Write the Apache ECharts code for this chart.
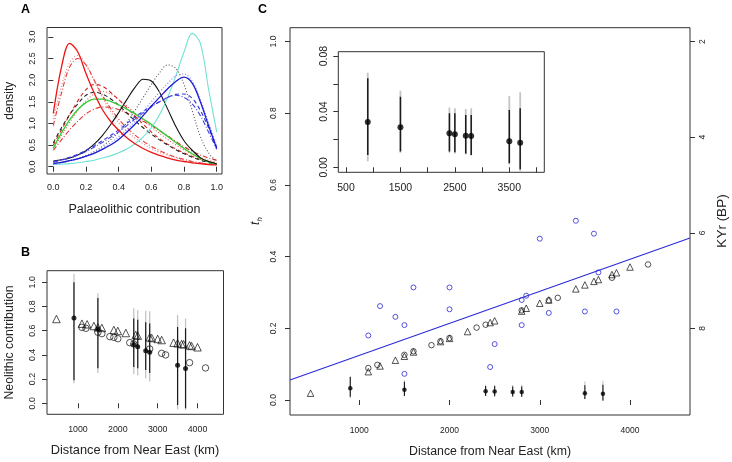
<!DOCTYPE html>
<html>
<head>
<meta charset="utf-8">
<script src="https://cdn.jsdelivr.net/npm/echarts@6/dist/echarts.min.js"></script>
<style>html,body{margin:0;padding:0;background:#fff}#c{width:732px;height:462px}</style>
</head>
<body>
<div id="c"></div>
<script>
// ---------- Panel A: density curves ----------
const aX = [0,0.05,0.1,0.15,0.2,0.25,0.3,0.35,0.4,0.45,0.5,0.55,0.6,0.65,0.7,0.75,0.8,0.85,0.9,0.95,1.0];
const redSolid     = [1.23,2.3,2.85,2.65,2.15,1.7,1.32,1.05,0.84,0.67,0.53,0.42,0.33,0.26,0.2,0.15,0.12,0.09,0.07,0.05,0.04];
const redDotHi     = [1.1,1.85,2.4,2.57,2.35,1.98,1.6,1.28,1.02,0.82,0.66,0.53,0.42,0.33,0.26,0.2,0.15,0.11,0.08,0.06,0.04];
const redDashDotHi = [0.95,1.7,2.3,2.5,2.35,2.0,1.65,1.35,1.1,0.9,0.73,0.59,0.47,0.37,0.29,0.22,0.17,0.12,0.09,0.06,0.05];
const redDash      = [0.5,0.85,1.2,1.52,1.78,1.9,1.86,1.72,1.55,1.36,1.17,0.98,0.8,0.65,0.52,0.41,0.32,0.24,0.17,0.12,0.08];
const redDotMid    = [0.42,0.72,1.02,1.3,1.52,1.68,1.74,1.68,1.55,1.4,1.24,1.08,0.92,0.77,0.63,0.5,0.39,0.29,0.21,0.15,0.1];
const redDashDotLo = [0.38,0.62,0.85,1.05,1.22,1.33,1.38,1.37,1.32,1.24,1.15,1.05,0.95,0.83,0.71,0.58,0.46,0.36,0.27,0.2,0.15];
const blackDash    = [0.55,0.9,1.2,1.45,1.65,1.72,1.68,1.57,1.42,1.24,1.06,0.9,0.75,0.62,0.5,0.39,0.3,0.22,0.15,0.1,0.06];
const greenSolid   = [0.43,0.78,1.08,1.32,1.48,1.56,1.56,1.51,1.43,1.33,1.22,1.1,0.98,0.84,0.7,0.56,0.42,0.3,0.19,0.11,0.06];
const blackSolid   = [0.13,0.16,0.2,0.27,0.37,0.52,0.72,0.97,1.25,1.55,1.83,2.02,1.98,1.72,1.33,0.93,0.6,0.38,0.21,0.12,0.07];
const blackDot     = [0.07,0.1,0.14,0.19,0.26,0.35,0.47,0.62,0.8,1.02,1.3,1.6,1.9,2.17,2.35,2.27,1.9,1.3,0.7,0.32,0.12];
const cyanSolid    = [0.05,0.06,0.07,0.09,0.12,0.15,0.2,0.25,0.32,0.41,0.53,0.69,0.9,1.2,1.6,2.1,2.65,3.08,2.85,1.8,0.8];
const blueSolid    = [0.07,0.1,0.14,0.18,0.24,0.31,0.4,0.5,0.63,0.8,0.98,1.18,1.4,1.6,1.8,1.97,2.07,1.93,1.5,0.95,0.42];
const blueDot      = [0.06,0.09,0.13,0.18,0.25,0.33,0.43,0.55,0.69,0.86,1.05,1.27,1.5,1.72,1.92,2.1,2.14,1.98,1.55,1.02,0.5];
const blueDash     = [0.12,0.16,0.22,0.29,0.38,0.48,0.6,0.72,0.85,1.0,1.15,1.28,1.4,1.5,1.6,1.67,1.68,1.58,1.3,0.9,0.45];
const blueDashDot  = [0.1,0.15,0.2,0.27,0.35,0.45,0.56,0.68,0.8,0.95,1.1,1.24,1.38,1.5,1.6,1.65,1.6,1.45,1.18,0.8,0.4];

// ---------- Panels B & C: sites ----------
const triX   = [460,1100,1230,1400,1500,1600,1900,2000,2200,2450,2500,2800,2850,3000,3100,3400,3500,3600,3650,3800,3850,4000];
const triNeo = [0.697,0.658,0.653,0.639,0.628,0.623,0.606,0.598,0.581,0.565,0.559,0.545,0.54,0.532,0.523,0.501,0.496,0.49,0.488,0.479,0.474,0.463];
const triTh  = [0.019,0.079,0.095,0.111,0.122,0.134,0.163,0.172,0.191,0.216,0.221,0.248,0.256,0.270,0.279,0.310,0.321,0.331,0.336,0.350,0.355,0.371];
const cirX   = [1100,1200,1500,1600,1800,1900,2000,2300,2400,2800,3100,3200,3800,4200];
const cirNeo = [0.628,0.62,0.587,0.576,0.551,0.545,0.534,0.501,0.49,0.449,0.413,0.40,0.336,0.292];
const cirTh  = [0.089,0.098,0.126,0.136,0.153,0.164,0.173,0.202,0.210,0.250,0.278,0.285,0.341,0.378];
const blueX  = [1100,1230,1400,1500,1500,1600,2000,2000,2450,2500,2800,2850,2800,3000,3100,3400,3500,3600,3650,3850];
const blueTh = [0.180,0.262,0.232,0.209,0.073,0.314,0.314,0.253,0.092,0.156,0.279,0.291,0.209,0.450,0.243,0.500,0.247,0.464,0.356,0.247];
const fitX   = [232,4665];
const fitTh  = [0.056,0.452];

// ---------- Estimated sites with intervals ----------
const ciX    = [900,1500,2400,2500,2700,2800,3500,3700];
const neoMed = [0.705,0.615,0.487,0.468,0.435,0.421,0.314,0.287];
const neoLo  = [0.19,0.29,0.30,0.29,0.275,0.25,-0.014,-0.04];
const neoHi  = [1.0,0.87,0.70,0.69,0.67,0.66,0.63,0.62];
const neoMin = [0.165,0.25,0.24,0.23,0.206,0.18,-0.05,-0.055];
const neoMax = [1.07,0.91,0.785,0.77,0.765,0.76,0.73,0.70];
const thMed  = [0.0325,0.0287,0.0244,0.0237,0.0227,0.0225,0.0187,0.0177];
const thLo   = [0.0089,0.0113,0.0113,0.0108,0.0100,0.0089,0.0029,-0.0014];
const thHi   = [0.064,0.0508,0.0388,0.0388,0.0376,0.0376,0.0412,0.0424];
const thMin  = [0.0043,0.0105,0.0105,0.0100,0.0092,0.0085,0.0020,-0.0030];
const thMax  = [0.068,0.055,0.0429,0.0424,0.0419,0.0424,0.0513,0.054];

// ---------- tick labels ----------
const aXTicks = [0,0.2,0.4,0.6,0.8,1.0];
const aYTicks = [0,0.5,1,1.5,2,2.5,3];
const distTicks = [1000,2000,3000,4000];
const bYTicks = [0,0.2,0.4,0.6,0.8,1.0];
const cYTicks = [0,0.2,0.4,0.6,0.8,1.0];
const kyrTicks = [2,4,6,8];
const insXTicks = [500,1000,1500,2000,2500,3000,3500,4000];
const insXLabels = [500,1500,2500,3500];
const insYTicks = [0,0.02,0.04,0.06,0.08];
const insYLabels = [0,0.04,0.08];

const FONT = 'Liberation Sans, Arial, Helvetica, sans-serif';
const TXT = '#222';

function zip(xs, ys){ return xs.map((x,i)=>[x, ys[i]]); }
function ciData(med, lo, hi, mn, mx){ return ciX.map((x,i)=>[x, lo[i], hi[i], mn[i], mx[i], med[i]]); }

function makeBar(outerW, innerW){
  return function(params, api){
    const x = api.value(0);
    const pLo = api.coord([x, api.value(1)]), pHi = api.coord([x, api.value(2)]);
    const pMn = api.coord([x, api.value(3)]), pMx = api.coord([x, api.value(4)]);
    return {type:'group', children:[
      {type:'line', shape:{x1:pMn[0],y1:pMn[1],x2:pMx[0],y2:pMx[1]}, style:{stroke:'#c4c4c4', lineWidth:outerW}},
      {type:'line', shape:{x1:pLo[0],y1:pLo[1],x2:pHi[0],y2:pHi[1]}, style:{stroke:'#1a1a1a', lineWidth:innerW}}
    ]};
  };
}

function mkX(grid, min, max, ticks, labels, fmt, margin, fs){
  return {type:'value', gridIndex:grid, min:min, max:max, splitLine:{show:false},
    axisLine:{show:false},
    axisTick:{show:true, customValues:ticks, length:5, lineStyle:{color:'#333', width:1}},
    axisLabel:{customValues:labels, formatter:fmt, fontSize:fs||8.5, color:TXT, fontFamily:FONT, margin:margin}};
}
function mkY(grid, min, max, ticks, labels, fmt, margin, fs, extra){
  const o = {type:'value', gridIndex:grid, min:min, max:max, splitLine:{show:false},
    axisLine:{show:false},
    axisTick:{show:true, customValues:ticks, length:5, lineStyle:{color:'#333', width:1}},
    axisLabel:{customValues:labels, formatter:fmt, fontSize:fs||8.5, color:TXT, fontFamily:FONT, margin:margin, rotate:90}};
  return Object.assign(o, extra||{});
}

function curve(data, color, type, w){
  return {type:'line', xAxisIndex:0, yAxisIndex:0, data:zip(aX, data), smooth:0.35, showSymbol:false,
    lineStyle:{color:color, width:w||1.1, type:type}, clip:true, silent:true};
}
const DASH=[4,3], DOT=[1,2], DASHDOT=[5,2,1,2];

const option = {
  animation:false,
  backgroundColor:'#fff',
  textStyle:{fontFamily:FONT},
  grid:[
    {left:47, top:27.5, width:175, height:146.5, show:true, borderColor:'#333', borderWidth:1, backgroundColor:'transparent'},
    {left:47, top:270.7, width:176.5, height:143.6, show:true, borderColor:'#333', borderWidth:1, backgroundColor:'transparent'},
    {left:290, top:27.7, width:400, height:387.3, show:true, borderColor:'#333', borderWidth:1, backgroundColor:'transparent'},
    {left:338.3, top:51.7, width:206, height:120.6, show:true, borderColor:'#333', borderWidth:1, backgroundColor:'#fff', z:5}
  ],
  xAxis:[
    mkX(0, -0.0386, 1.0325, aXTicks, aXTicks, v=>v.toFixed(1), 9, 9),
    mkX(1, 223, 4652, distTicks, distTicks, v=>String(v), 11, 8.8),
    mkX(2, 232, 4665, distTicks, distTicks, v=>String(v), 11),
    Object.assign(mkX(3, 358.5, 4143, insXTicks, insXLabels, v=>String(v), 10, 10.5), {z:6})
  ],
  yAxis:[
    mkY(0, -0.1686, 3.215, aYTicks, aYTicks, v=>v.toFixed(1), 10, 9),
    mkY(1, -0.091, 1.096, bYTicks, bYTicks, v=>v.toFixed(1), 10, 8.8),
    mkY(2, -0.0418, 1.0385, cYTicks, cYTicks, v=>v.toFixed(1), 11.5),
    mkY(2, 1.71, 9.81, kyrTicks, kyrTicks, v=>String(v), 8, 8.5, {position:'right', inverse:true}),
    Object.assign(mkY(3, -0.0036, 0.0831, insYTicks, insYLabels, v=>v.toFixed(2), 9, 10.5), {z:6})
  ],
  series:[
    // Panel A
    curve(redDashDotLo, '#de3030', DASHDOT),
    curve(redDotMid, '#e65a5a', DOT),
    curve(redDash, '#d92424', DASH),
    curve(redDashDotHi, '#e23a3a', DASHDOT),
    curve(redDotHi, '#f08a8a', DOT, 1.3),
    curve(blackDash, '#222', DASH),
    curve(greenSolid, '#33cc33', 'solid', 1.3),
    curve(blackSolid, '#111', 'solid'),
    curve(blackDot, '#555', DOT),
    curve(cyanSolid, '#6fe2d2', 'solid'),
    curve(blueDashDot, '#4646e0', DASHDOT),
    curve(blueDash, '#3434dc', DASH),
    curve(blueDot, '#8c8cff', DOT, 1.3),
    curve(redSolid, '#ee1414', 'solid', 1.3),
    curve(blueSolid, '#1c1cd6', 'solid', 1.3),
    // Panel B
    {type:'custom', xAxisIndex:1, yAxisIndex:1, renderItem:makeBar(1.3, 1.2), data:ciData(neoMed,neoLo,neoHi,neoMin,neoMax), clip:true, silent:true},
    {type:'scatter', xAxisIndex:1, yAxisIndex:1, data:zip(triX, triNeo), symbol:'triangle', symbolSize:7.5,
      itemStyle:{color:'rgba(0,0,0,0)', borderColor:'#111', borderWidth:0.9}, silent:true},
    {type:'scatter', xAxisIndex:1, yAxisIndex:1, data:zip(cirX, cirNeo), symbol:'circle', symbolSize:6.5,
      itemStyle:{color:'rgba(0,0,0,0)', borderColor:'#111', borderWidth:0.9}, silent:true},
    {type:'scatter', xAxisIndex:1, yAxisIndex:1, data:zip(ciX, neoMed), symbol:'circle', symbolSize:5,
      itemStyle:{color:'#000'}, silent:true, z:4},
    // Panel C
    {type:'line', xAxisIndex:2, yAxisIndex:2, data:zip(fitX, fitTh), showSymbol:false, lineStyle:{color:'#2b2bd8', width:1.1}, silent:true},
    {type:'scatter', xAxisIndex:2, yAxisIndex:2, data:zip(blueX, blueTh), symbol:'circle', symbolSize:5,
      itemStyle:{color:'rgba(0,0,0,0)', borderColor:'#2a2ad6', borderWidth:1}, silent:true},
    {type:'scatter', xAxisIndex:2, yAxisIndex:2, data:zip(triX, triTh), symbol:'triangle', symbolSize:6.5,
      itemStyle:{color:'rgba(0,0,0,0)', borderColor:'#111', borderWidth:0.9}, silent:true},
    {type:'scatter', xAxisIndex:2, yAxisIndex:2, data:zip(cirX, cirTh), symbol:'circle', symbolSize:5.5,
      itemStyle:{color:'rgba(0,0,0,0)', borderColor:'#111', borderWidth:0.9}, silent:true},
    {type:'custom', xAxisIndex:2, yAxisIndex:2, renderItem:makeBar(1.1, 1.1), data:ciData(thMed,thLo,thHi,thMin,thMax), clip:true, silent:true},
    {type:'scatter', xAxisIndex:2, yAxisIndex:2, data:zip(ciX, thMed), symbol:'circle', symbolSize:4.5,
      itemStyle:{color:'#000'}, silent:true, z:4},
    // Inset
    {type:'custom', xAxisIndex:3, yAxisIndex:4, renderItem:makeBar(1.8, 1.5), data:ciData(thMed,thLo,thHi,thMin,thMax), clip:true, silent:true, z:7},
    {type:'scatter', xAxisIndex:3, yAxisIndex:4, data:zip(ciX, thMed), symbol:'circle', symbolSize:6,
      itemStyle:{color:'#000'}, silent:true, z:8}
  ],
  graphic:[
    {type:'text', left:21, top:3, style:{text:'A', font:'bold 12.5px '+FONT, fill:'#000'}},
    {type:'text', left:21, top:246, style:{text:'B', font:'bold 12.5px '+FONT, fill:'#000'}},
    {type:'text', left:258, top:3, style:{text:'C', font:'bold 12.5px '+FONT, fill:'#000'}},
    {type:'text', x:10, y:100.7, rotation:Math.PI/2, style:{text:'density', font:'12px '+FONT, fill:TXT, align:'center', verticalAlign:'middle'}},
    {type:'text', x:134.5, y:209.3, style:{text:'Palaeolithic contribution', font:'12.5px '+FONT, fill:TXT, align:'center', verticalAlign:'middle'}},
    {type:'text', x:10, y:342.5, rotation:Math.PI/2, style:{text:'Neolithic contribution', font:'12.3px '+FONT, fill:TXT, align:'center', verticalAlign:'middle'}},
    {type:'text', x:135, y:450, style:{text:'Distance from Near East (km)', font:'12.8px '+FONT, fill:TXT, align:'center', verticalAlign:'middle'}},
    {type:'text', x:490, y:451.5, style:{text:'Distance from Near East (km)', font:'12.3px '+FONT, fill:TXT, align:'center', verticalAlign:'middle'}},
    {type:'text', x:722, y:221, rotation:Math.PI/2, style:{text:'KYr (BP)', font:'13.5px '+FONT, fill:TXT, align:'center', verticalAlign:'middle'}},
    {type:'text', x:256, y:221, rotation:Math.PI/2, style:{text:'{t|t}{h|h}', align:'center', verticalAlign:'middle',
      rich:{t:{fontStyle:'italic', fontSize:12, fontFamily:FONT, fill:TXT, lineHeight:16}, h:{fontStyle:'italic', fontSize:8, fontFamily:FONT, fill:TXT, lineHeight:8, verticalAlign:'bottom'}}}}
  ]
};

const chart = echarts.init(document.getElementById('c'), null, {renderer:'canvas', width:732, height:462});
chart.setOption(option);
</script>
</body>
</html>
